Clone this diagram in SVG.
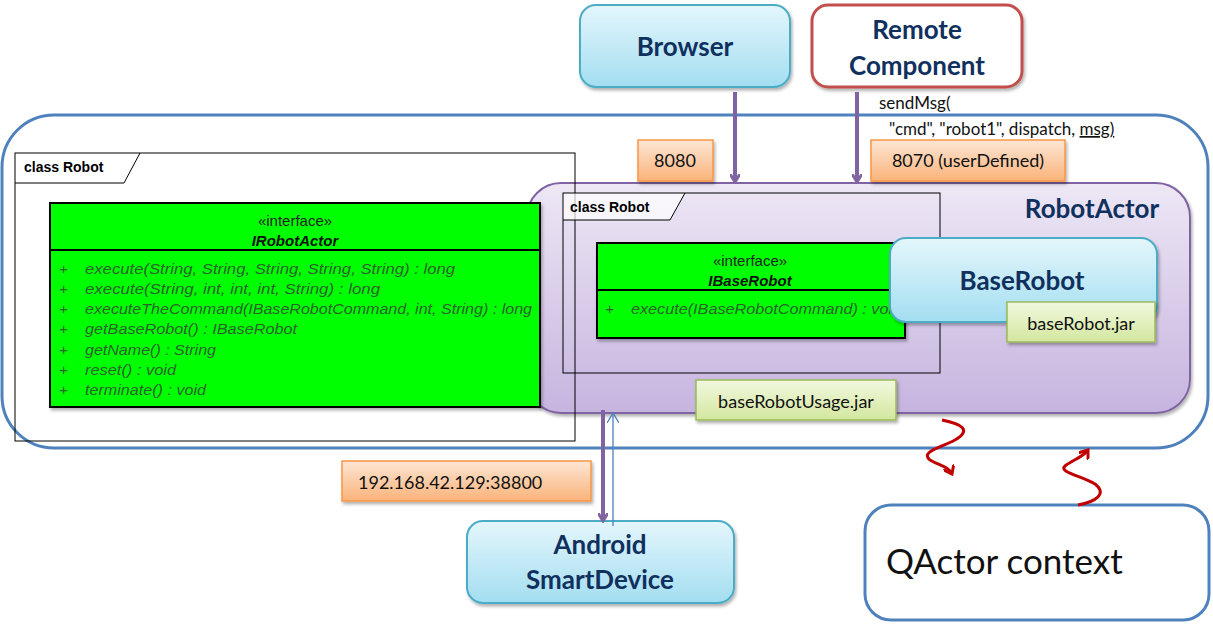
<svg xmlns="http://www.w3.org/2000/svg" width="1213" height="624" viewBox="0 0 1213 624">
<defs>
<linearGradient id="gBlue" x1="0" y1="0" x2="0" y2="1"><stop offset="0" stop-color="#e4f6fc"/><stop offset="1" stop-color="#a3def1"/></linearGradient>
<linearGradient id="gPurple" x1="0" y1="0" x2="0" y2="1"><stop offset="0" stop-color="#ede7f5"/><stop offset="1" stop-color="#c6b4df"/></linearGradient>
<linearGradient id="gOrange" x1="0" y1="0" x2="0" y2="1"><stop offset="0" stop-color="#fde6d4"/><stop offset="1" stop-color="#fab37a"/></linearGradient>
<linearGradient id="gGreen" x1="0" y1="0" x2="0" y2="1"><stop offset="0" stop-color="#f2f8e0"/><stop offset="1" stop-color="#d3e79e"/></linearGradient>
<filter id="sh" x="-10%" y="-10%" width="130%" height="140%"><feDropShadow dx="1.5" dy="2.5" stdDeviation="1.5" flood-color="#000" flood-opacity="0.3"/></filter>
<marker id="aP" markerWidth="10" markerHeight="10" refX="7" refY="5" orient="auto" markerUnits="userSpaceOnUse"><path d="M0,0 L8,5 L0,10" fill="none" stroke="#8064a2" stroke-width="3"/></marker>
<marker id="aB" markerWidth="12" markerHeight="12" refX="10" refY="6" orient="auto" markerUnits="userSpaceOnUse"><path d="M0,0 L10,6 L0,12" fill="none" stroke="#4f81bd" stroke-width="1.3"/></marker>
<marker id="aR" markerWidth="12" markerHeight="12" refX="8" refY="6" orient="auto" markerUnits="userSpaceOnUse"><path d="M0,0 L8,6 L0,12" fill="none" stroke="#c00000" stroke-width="3"/></marker>
<style>
.node{font-family:Lato,"Liberation Sans",sans-serif;font-weight:bold;fill:#10305e;text-anchor:middle}
.cal{font-family:Lato,"Liberation Sans",sans-serif;fill:#111}
.uml{font-family:"Liberation Sans",Arial,sans-serif}
.meth{font-family:"Liberation Sans",Arial,sans-serif;font-style:italic;font-size:15px;fill:#2a632a}
.frame{fill:none;stroke:#000;stroke-width:1}
.umlbox{fill:#00ff00;stroke:#000;stroke-width:2}
.lblO{fill:url(#gOrange);stroke:#f79646;stroke-width:1.5}
.lblG{fill:url(#gGreen);stroke:#9bbb59;stroke-width:1.5}
</style>
</defs>
<rect width="1213" height="624" fill="#fff"/>

<g id="system">
<rect x="2" y="115" width="1206" height="333" rx="52" ry="52" fill="none" stroke="#4f81bd" stroke-width="3"/>
</g>

<g id="robotActor">
<rect x="527" y="183" width="663" height="230" rx="34" ry="34" fill="url(#gPurple)" stroke="#8064a2" stroke-width="2" filter="url(#sh)"/>
<text class="node" x="1092" y="218" font-size="26">RobotActor</text>
</g>

<g id="classFrameLeft">
<rect class="frame" x="15" y="153" width="560" height="288"/>
<path d="M15,183 L124,183 L140,153" fill="none" stroke="#000" stroke-width="1"/>
<text class="uml" x="24" y="172" font-size="14" font-weight="bold">class Robot</text>
</g>

<g id="IRobotActor">
<rect class="umlbox" x="50" y="203" width="490" height="204" filter="url(#sh)"/>
<line x1="50" y1="250" x2="540" y2="250" stroke="#000" stroke-width="2"/>
<text class="uml" x="295" y="226" font-size="15" text-anchor="middle" fill="#222">«interface»</text>
<text class="uml" x="295" y="246" font-size="15" text-anchor="middle" font-weight="bold" font-style="italic" fill="#111">IRobotActor</text>
<g class="meth">
<text x="59" y="274">+</text><text x="85" y="274" textLength="370" lengthAdjust="spacingAndGlyphs">execute(String, String, String, String, String) : long</text>
<text x="59" y="294">+</text><text x="85" y="294" textLength="295" lengthAdjust="spacingAndGlyphs">execute(String, int, int, int, String) : long</text>
<text x="59" y="314">+</text><text x="85" y="314" textLength="447" lengthAdjust="spacingAndGlyphs">executeTheCommand(IBaseRobotCommand, int, String) : long</text>
<text x="59" y="334">+</text><text x="85" y="334" textLength="212" lengthAdjust="spacingAndGlyphs">getBaseRobot() : IBaseRobot</text>
<text x="59" y="355">+</text><text x="85" y="355" textLength="131" lengthAdjust="spacingAndGlyphs">getName() : String</text>
<text x="59" y="375">+</text><text x="85" y="375" textLength="91" lengthAdjust="spacingAndGlyphs">reset() : void</text>
<text x="59" y="395">+</text><text x="85" y="395" textLength="121" lengthAdjust="spacingAndGlyphs">terminate() : void</text>
</g>
</g>

<g id="classFrameInner">
<path d="M563,193 L685,193 L670,220 L563,220 Z" fill="#fff" fill-opacity="0.7"/>
<rect class="frame" x="563" y="193" width="377" height="180"/>
<path d="M563,220 L670,220 L685,193" fill="none" stroke="#000" stroke-width="1"/>
<text class="uml" x="570" y="212" font-size="14" font-weight="bold">class Robot</text>
</g>

<g id="IBaseRobot">
<rect class="umlbox" x="597" y="243" width="308" height="95" filter="url(#sh)"/>
<line x1="597" y1="290" x2="905" y2="290" stroke="#000" stroke-width="2"/>
<text class="uml" x="750" y="266" font-size="15" text-anchor="middle" fill="#222">«interface»</text>
<text class="uml" x="750" y="286" font-size="15" text-anchor="middle" font-weight="bold" font-style="italic" fill="#111">IBaseRobot</text>
<text class="meth" x="605" y="314">+</text>
<text class="meth" x="631" y="314" textLength="270" lengthAdjust="spacingAndGlyphs">execute(IBaseRobotCommand) : void</text>
</g>

<g id="BaseRobot">
<rect x="890" y="238" width="267" height="84" rx="16" ry="16" fill="url(#gBlue)" stroke="#4bacc6" stroke-width="2" filter="url(#sh)"/>
<text class="node" x="1022" y="290" font-size="26">BaseRobot</text>
</g>

<g id="baseRobotJar">
<rect class="lblG" x="1007" y="302" width="148" height="40" filter="url(#sh)"/>
<text class="cal" x="1081" y="330" font-size="18" text-anchor="middle">baseRobot.jar</text>
</g>

<g id="baseRobotUsageJar">
<rect class="lblG" x="696" y="380" width="200" height="40" filter="url(#sh)"/>
<text class="cal" x="796" y="408" font-size="18" text-anchor="middle">baseRobotUsage.jar</text>
</g>

<g id="Browser">
<rect x="580" y="5" width="210" height="82" rx="16" ry="16" fill="url(#gBlue)" stroke="#4bacc6" stroke-width="2" filter="url(#sh)"/>
<text class="node" x="685" y="56" font-size="26">Browser</text>
</g>

<g id="RemoteComponent">
<rect x="812" y="5" width="210" height="82" rx="16" ry="16" fill="#fff" stroke="#c0504d" stroke-width="3" filter="url(#sh)"/>
<text class="node" x="917" y="39" font-size="26">Remote</text>
<text class="node" x="917" y="75" font-size="26">Component</text>
</g>

<g id="AndroidSmartDevice">
<rect x="467" y="521" width="267" height="82" rx="16" ry="16" fill="url(#gBlue)" stroke="#4bacc6" stroke-width="2" filter="url(#sh)"/>
<text class="node" x="600" y="554" font-size="26">Android</text>
<text class="node" x="600" y="589" font-size="26">SmartDevice</text>
</g>

<g id="QActorContext">
<rect x="865" y="505" width="344" height="115" rx="26" ry="26" fill="#fff" stroke="#4f81bd" stroke-width="3"/>
<text class="cal" x="886" y="574" font-size="35">QActor context</text>
</g>

<g id="connectors">
<line x1="735" y1="92" x2="735" y2="181" stroke="#8064a2" stroke-width="4" marker-end="url(#aP)"/>
<line x1="857" y1="92" x2="857" y2="181" stroke="#8064a2" stroke-width="4" marker-end="url(#aP)"/>
<line x1="603" y1="410" x2="603" y2="520" stroke="#8064a2" stroke-width="4" marker-end="url(#aP)"/>
<line x1="613" y1="526" x2="613" y2="413" stroke="#4f81bd" stroke-width="1.3" marker-end="url(#aB)"/>
<path d="M942,420 C962,424 972,430 955,440 C940,448 920,452 930,460 C940,466 948,466 952,474" fill="none" stroke="#c00000" stroke-width="3" marker-end="url(#aR)"/>
<path d="M1078,505 C1095,502 1108,494 1095,484 C1082,476 1058,472 1065,466 C1072,460 1082,458 1088,450" fill="none" stroke="#c00000" stroke-width="3" marker-end="url(#aR)"/>
</g>

<g id="labels">
<rect class="lblO" x="638" y="140" width="75" height="41" filter="url(#sh)"/>
<text class="cal" x="675" y="167" font-size="18" text-anchor="middle">8080</text>
<rect class="lblO" x="871" y="140" width="194" height="41" filter="url(#sh)"/>
<text class="cal" x="968" y="167" font-size="18" text-anchor="middle">8070 (userDefined)</text>
<rect class="lblO" x="342" y="461" width="249" height="40" filter="url(#sh)"/>
<text class="cal" x="358" y="489" font-size="18">192.168.42.129:38800</text>
<text class="cal" x="879" y="109" font-size="17">sendMsg(</text>
<text class="cal" x="889" y="135" font-size="17">"cmd", "robot1", dispatch, <tspan text-decoration="underline">msg)</tspan></text>
</g>
</svg>
